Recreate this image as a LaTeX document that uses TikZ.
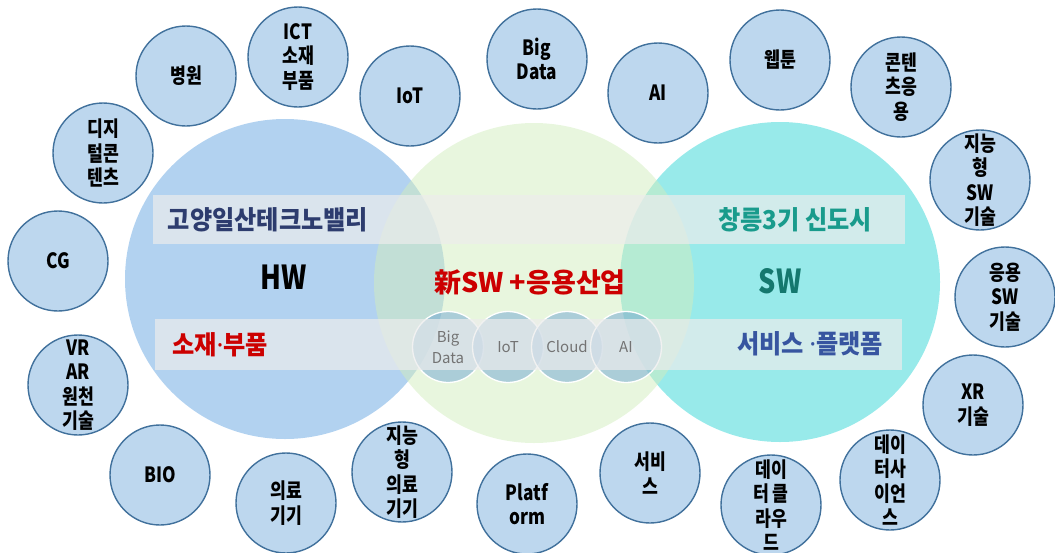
\documentclass[tikz,border=0pt]{standalone}
\usepackage{fontspec}
\setmainfont{Noto Sans CJK KR}
\newfontfamily\krc[FakeStretch=0.82]{Noto Sans CJK KR}
\newfontfamily\krl[FakeStretch=0.93]{Noto Sans CJK KR}
\newfontfamily\krw{Noto Sans CJK KR}
\newfontfamily\latn{Noto Sans}
\newcommand{\mdot}{{\latn\bfseries ·}}
\definecolor{hwblue}{RGB}{178,210,240}
\definecolor{swcyan}{RGB}{152,234,234}
\definecolor{newgreen}{RGB}{210,237,190}
\definecolor{bandgray}{RGB}{236,236,236}
\definecolor{scfill}{RGB}{189,215,238}
\definecolor{scborder}{RGB}{65,113,156}
\definecolor{mcfill}{RGB}{110,165,210}
\definecolor{navytxt}{RGB}{45,60,110}
\definecolor{tealtxt}{RGB}{25,155,140}
\definecolor{swtxt}{RGB}{20,120,110}
\definecolor{redtxt}{RGB}{204,0,0}
\definecolor{svtxt}{RGB}{55,85,160}
\definecolor{mctxtc}{RGB}{115,115,115}
\begin{document}
\begin{tikzpicture}[x=1pt,y=-1pt,
  sc/.style={circle, draw=scborder, line width=1.4pt, fill=scfill, minimum size=100pt, inner sep=0pt},
  sctxt/.style={align=center, font=\krc\bfseries\fontsize{21}{24.5}\selectfont, text=black, inner sep=0pt},
  bigc/.style={circle, minimum size=320pt, inner sep=0pt, draw=none},
  band/.style={fill=bandgray, fill opacity=0.7, draw=none, inner sep=0pt},
  mc/.style={circle, draw=white, line width=1.3pt, fill=mcfill, fill opacity=0.5, minimum size=71pt, inner sep=0pt},
  mctxt/.style={align=center, font=\fontsize{15}{21}\selectfont, text=mctxtc, inner sep=0pt},
  lab/.style={font=\krl\bfseries\fontsize{26}{28}\selectfont, inner sep=0pt},
  big/.style={font=\krc\bfseries\fontsize{33}{36}\selectfont, inner sep=0pt}
]
\useasboundingbox (0,0) rectangle (1055,552);

% big circles
\node[bigc, fill=hwblue] (hw) at (285,279) {};
\node[bigc, fill=swcyan] (sw) at (780,282) {};
\node[bigc, fill=newgreen, fill opacity=0.5] (nsw) at (534,283) {};

% middle small circles
\node[mc] (m1) at (448,347) {};
\node[mc] (m2) at (508,347) {};
\node[mc] (m3) at (567,347) {};
\node[mc] (m4) at (626,347) {};

% bands
\node[band, minimum width=752pt, minimum height=49pt] (b1) at (529,219.5) {};
\node[band, minimum width=747pt, minimum height=51pt] (b2) at (528.5,344.5) {};

% middle texts
\node[mctxt] (mt1) at (m1) {Big\\Data};
\node[mctxt] (mt2) at (m2) {IoT};
\node[mctxt] (mt3) at (m3) {Cloud};
\node[mctxt] (mt4) at (m4) {AI};

% labels
\node[lab, text=navytxt] (l1) at (268,220) {고양일산테크노밸리};
\node[lab, text=tealtxt] (l2) at (795,220) {창릉3기 신도시};
\node[big, text=black] (l3) at (284,277) {HW};
\node[font=\krw\bfseries\fontsize{27}{30}\selectfont, inner sep=0pt, text=redtxt] (l4) at (530,282) {新SW +응용산업};
\node[big, text=swtxt] (l5) at (780,281) {SW};
\node[lab, text=redtxt] (l6) at (220,345) {소재\mdot 부품};
\node[lab, text=svtxt] (l7) at (810,344) {서비스 \mdot 플랫폼};

% outer circles
\node[sc] (c1) at (186,76) {};   \node[sctxt] at (c1) {병원};
\node[sc] (c2) at (298,57) {};   \node[sctxt] at (c2) {ICT\\소재\\부품};
\node[sc] (c3) at (410,96) {};   \node[sctxt] at (c3) {IoT};
\node[sc] (c4) at (537,59) {};   \node[sctxt] at (c4) {Big\\Data};
\node[sc] (c5) at (658,93) {};   \node[sctxt] at (c5) {AI};
\node[sc] (c6) at (780,60) {};   \node[sctxt] at (c6) {웹툰};
\node[sc] (c7) at (901,87) {};   \node[sctxt] at (c7) {콘텐\\츠응\\용};
\node[sc] (c8) at (980,180) {};  \node[sctxt] at (c8) {지능\\형\\SW\\기술};
\node[sc] (c9) at (1005,297) {}; \node[sctxt] at (c9) {응용\\SW\\기술};
\node[sc] (c10) at (973,405) {}; \node[sctxt] at (c10) {XR\\기술};
\node[sc] (c11) at (890,480) {}; \node[sctxt] at (c11) {데이\\터사\\이언\\스};
\node[sc] (c12) at (771,505) {}; \node[sctxt] at (c12) {데이\\터 클\\라우\\드};
\node[sc] (c13) at (650,473) {}; \node[sctxt] at (c13) {서비\\스};
\node[sc] (c14) at (527,504) {}; \node[sctxt] at (c14) {Platf\\orm};
\node[sc] (c15) at (402,472) {}; \node[sctxt] at (c15) {지능\\형\\의료\\기기};
\node[sc] (c16) at (286,503) {}; \node[sctxt] at (c16) {의료\\기기};
\node[sc] (c17) at (160,475) {}; \node[sctxt] at (c17) {BIO};
\node[sc] (c18) at (78,385) {};  \node[sctxt] at (c18) {VR\\AR\\원천\\기술};
\node[sc] (c19) at (58,261) {};  \node[sctxt] at (c19) {CG};
\node[sc] (c20) at (103,153) {}; \node[sctxt] at (c20) {디지\\털콘\\텐츠};
\end{tikzpicture}
\end{document}
